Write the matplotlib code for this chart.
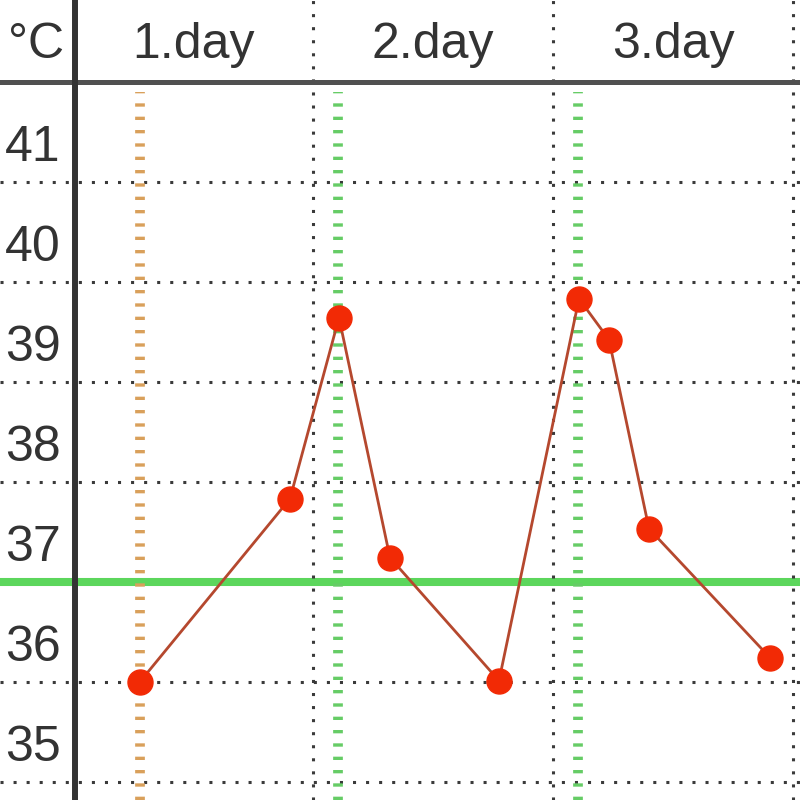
import matplotlib
matplotlib.use("Agg")
import matplotlib.pyplot as plt

plt.rcParams['lines.scale_dashes'] = False
plt.rcParams['font.family'] = ['Liberation Sans', 'DejaVu Sans']

# ---- data ----
hours = [6.7, 21.7, 26.6, 31.7, 42.6, 50.6, 53.6, 57.6, 69.7]
temps = [36.0, 37.83, 39.64, 37.24, 36.01, 39.83, 39.42, 37.53, 36.24]
day_labels = ["1.day", "2.day", "3.day"]
day_centers = [12, 36, 60]
day_bounds = [24, 48, 72]
temp_ticks = [35, 36, 37, 38, 39, 40, 41]
fever_line = 37.0
marker_hours = [6.7, 26.5, 50.5]
marker_colors = ['#d9a05b', '#66cc66', '#66cc66']
unit_label = "°C"

fig = plt.figure(figsize=(8, 8), dpi=100)
ax = fig.add_axes([0, 0, 1, 1])
ax.set_xlim(-7.3, 72.7)
ax.set_ylim(34.817, 42.817)
ax.axis('off')

dot = (0, (2.2, 7.2))
# horizontal dotted grid
for t in temp_ticks:
    ax.axhline(t, color='#3a3a3a', lw=2.2, linestyle=dot, zorder=1,
               dash_capstyle='butt')
# vertical dotted day boundaries
for b in day_bounds:
    ax.axvline(b, color='#3a3a3a', lw=2.2, linestyle=dot, zorder=3,
               dash_capstyle='butt')

# fever line
ax.axhline(fever_line, color='#5cd65c', lw=5.8, zorder=2)

# colored vertical marker lines (below header)
for h, c in zip(marker_hours, marker_colors):
    ax.plot([h, h], [34.817, 41.9], color=c, lw=7.0,
            linestyle=(0, (2.4, 7.2)), dash_capstyle='butt', zorder=3)

# header separator and left separator
ax.axhline(42.0, color='#505050', lw=3.6, zorder=4)
ax.axvline(0.2, color='#333333', lw=4.3, zorder=4)

# data
ax.plot(hours, temps, color='#b5482e', lw=2.0, zorder=5)
ax.plot(hours, temps, linestyle='none', marker='o', markersize=18,
        markerfacecolor='#f22a05', markeredgecolor='#f22a05', zorder=6)

# texts
txt = dict(fontsize=36, color='#333333', ha='center', va='center')
ax.text(-3.7, 42.37, unit_label, **txt)
for lab, cx in zip(day_labels, day_centers):
    ax.text(cx, 42.37, lab, **txt)
for t in temp_ticks:
    ax.text(-4.0, t + 0.34, str(t), **txt)

fig.savefig("out.png", dpi=100)
